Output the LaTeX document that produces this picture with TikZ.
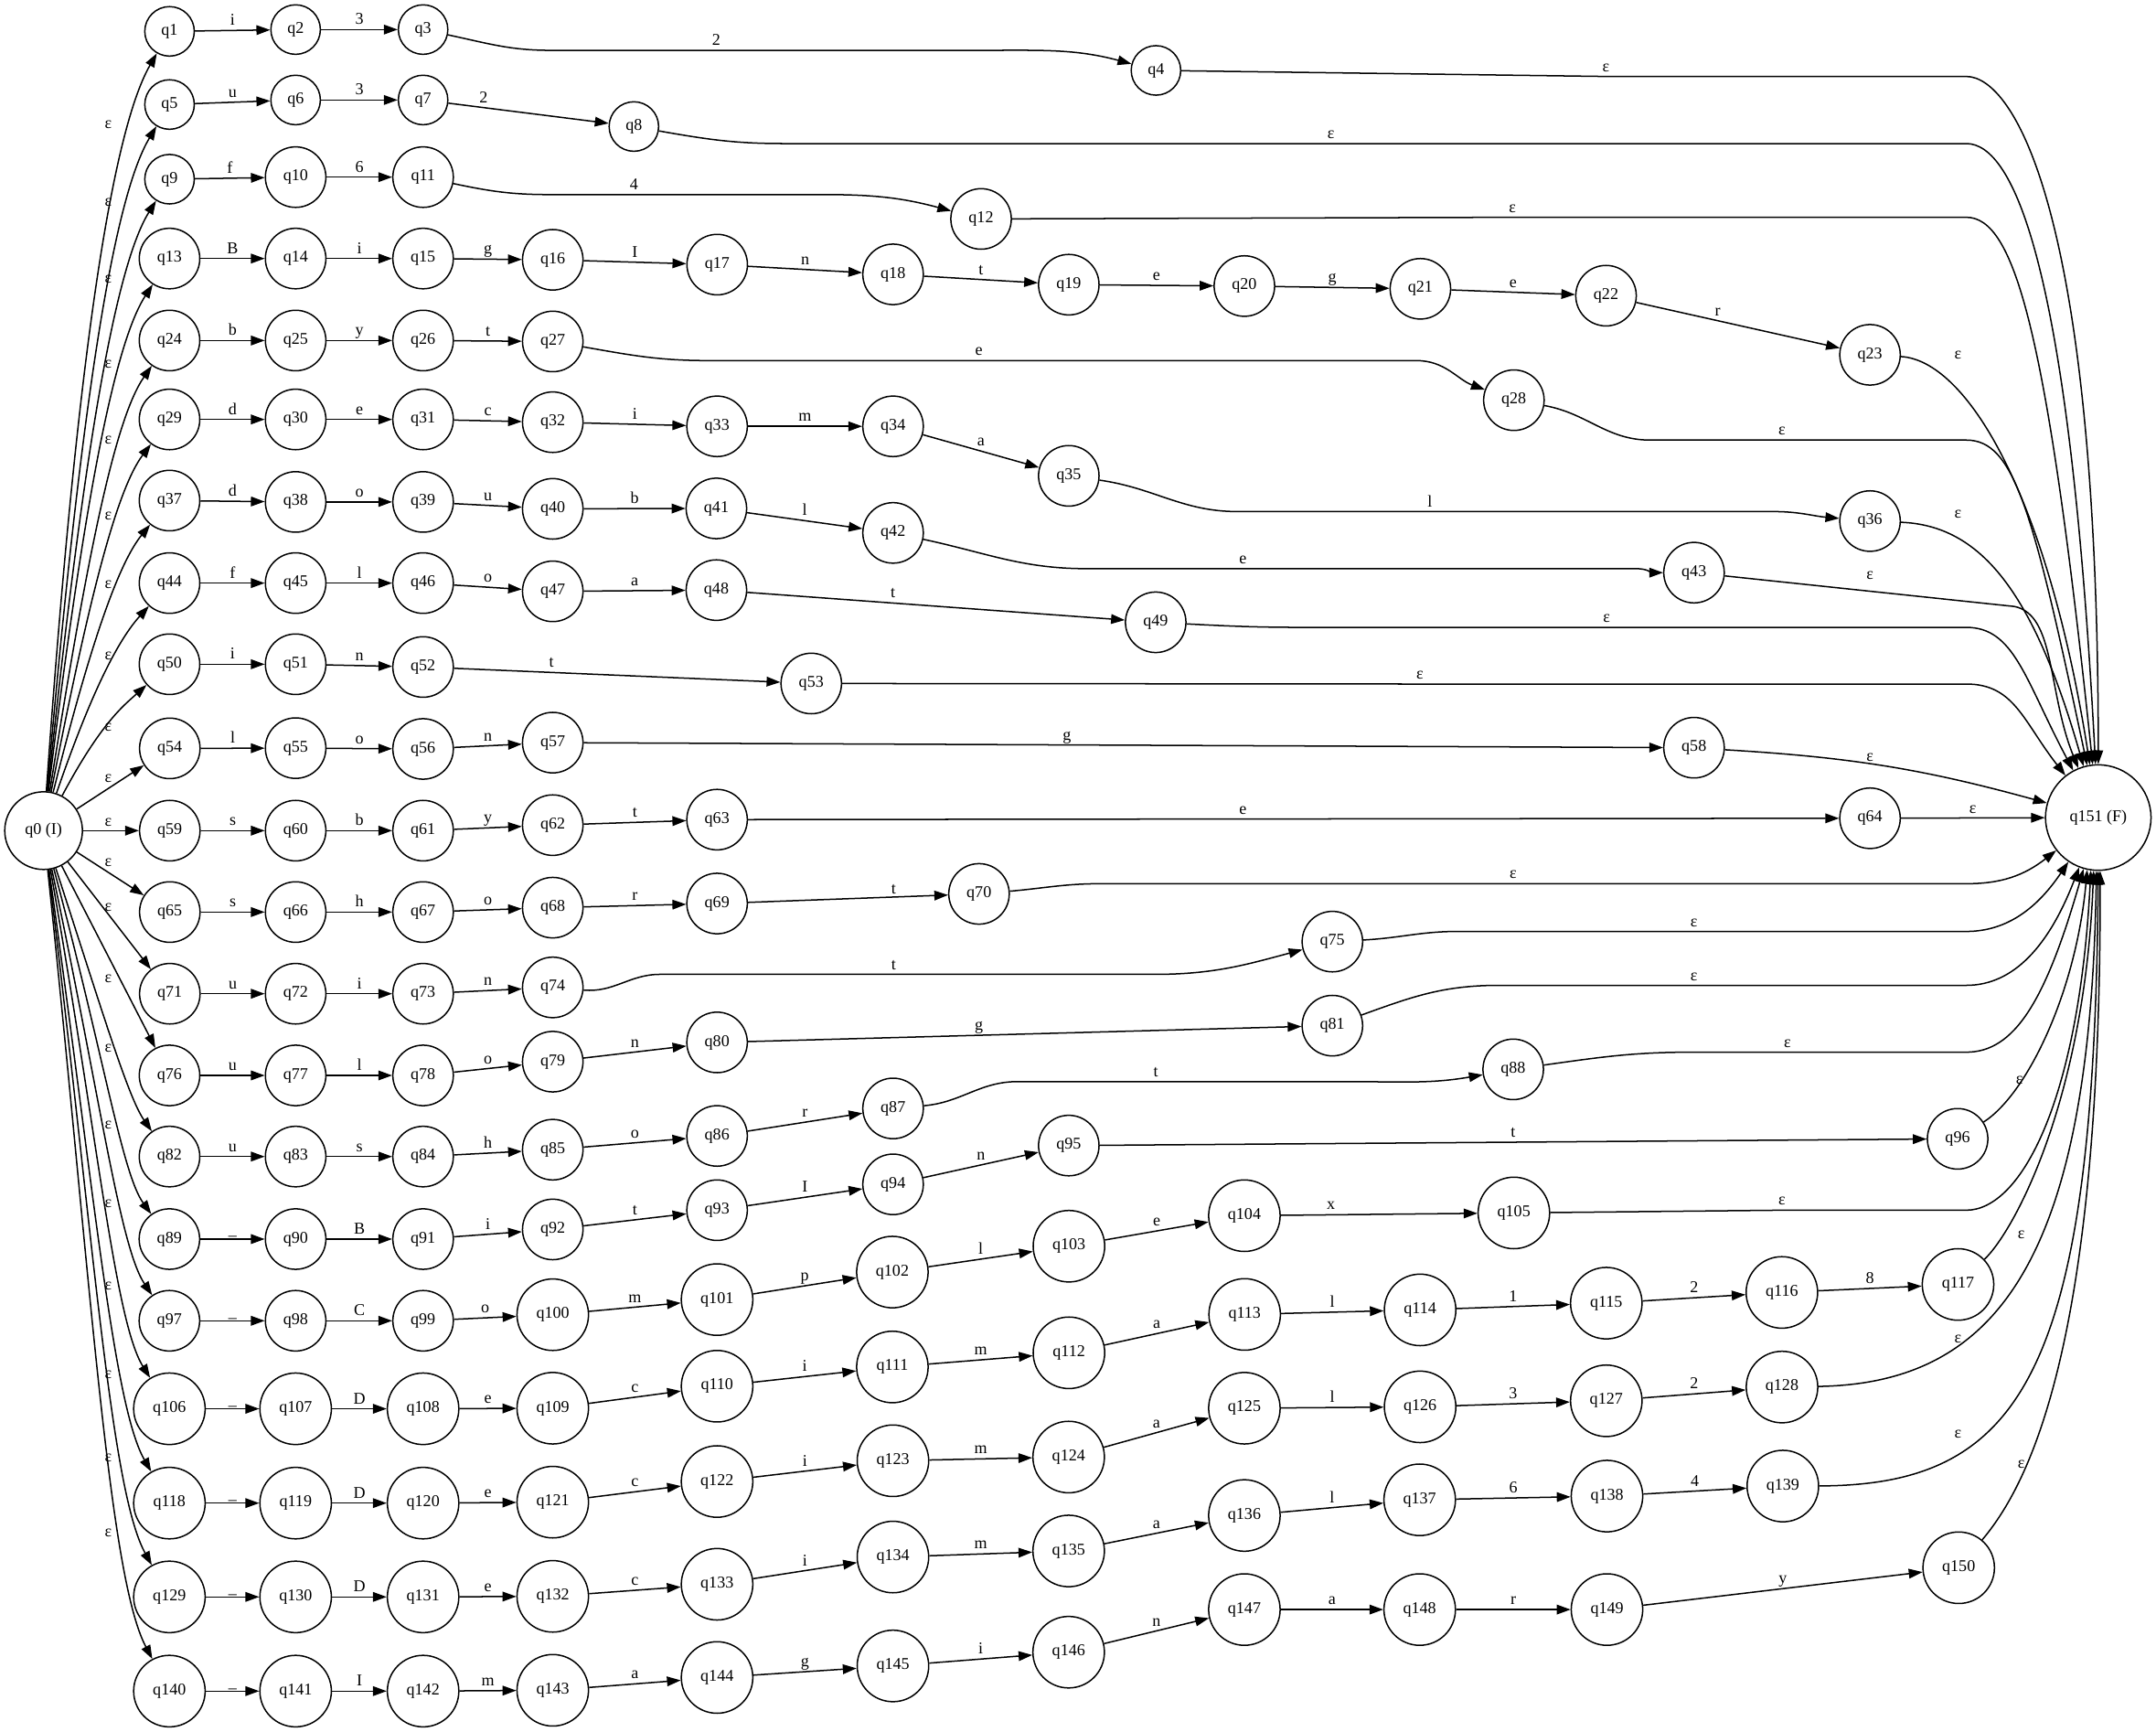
\documentclass[tikz,border=0pt]{standalone}
\usepackage{fontspec}
\setmainfont{Liberation Serif}
\usetikzlibrary{arrows.meta}
\newcommand\nf{\fontsize{12}{14}\selectfont}
\newcommand\N[4]{\node[#2] (#1) at (#3,-#4) {#1};}
\newcommand\SE[3]{\draw[ed] (#1) -- node[lab,above]{#3} (#2);}
\newcommand\SU[2]{\draw[ed] (#1) -- node[lab,above=-0.8pt]{\_} (#2);}
\newcommand\FU[6]{\draw[ed] (q0) to[out=#2,in=#3,out distance=#4pt,in distance=#5pt] (#1) node[lab] at (78.7,-#6) {ε};}
\begin{document}
\begin{tikzpicture}[x=1pt,y=1pt,
 st/.style={circle,draw,line width=1pt,inner sep=0pt,font=\nf},
 s2/.style={st,minimum size=36pt},
 s3/.style={st,minimum size=44pt},
 s4/.style={st,minimum size=52pt},
 ed/.style={line width=1pt,-{Triangle[length=10pt,width=7pt]}},
 lab/.style={font=\nf,inner sep=0.6pt,text height=8pt,text depth=2.5pt}]
\fill[white] (0,0) rectangle (1568,-1259);
\useasboundingbox (0,0) rectangle (1568,-1259);
% start / final
\node[st,minimum size=56.5pt] (q0) at (31.7,-604) {q0 (I)};
\node[st,minimum size=76.7pt] (q151) at (1526,-594.5) {q151 (F)};
% row nodes
\N{q1}{s2}{123.3}{22.8}\N{q2}{s2}{215}{21.5}\N{q3}{s2}{307.7}{21.5}\N{q4}{s2}{840.7}{51.2}
\N{q5}{s2}{123.3}{76}\N{q6}{s2}{215}{72.7}\N{q7}{s2}{307.7}{72.7}\N{q8}{s2}{461}{92}
\N{q9}{s2}{123.3}{130.3}\N{q10}{s3}{215}{128.8}\N{q11}{s3}{307.7}{128.8}\N{q12}{s3}{713.5}{159.2}
\N{q13}{s3}{123.3}{188}\N{q14}{s3}{215}{188}\N{q15}{s3}{307.7}{188}\N{q16}{s3}{402}{188.9}
\N{q17}{s3}{521.6}{192.4}\N{q18}{s3}{649.5}{199.5}\N{q19}{s3}{777.3}{207}\N{q20}{s3}{905}{208}
\N{q21}{s3}{1033}{210}\N{q22}{s3}{1168}{215}\N{q23}{s3}{1360}{258}
\N{q24}{s3}{123.3}{247.6}\N{q25}{s3}{215}{247.6}\N{q26}{s3}{307.7}{247.6}\N{q27}{s3}{402}{248.3}\N{q28}{s3}{1101}{291}
\N{q29}{s3}{123.3}{305}\N{q30}{s3}{215}{305}\N{q31}{s3}{307.7}{305}\N{q32}{s3}{402}{307}
\N{q33}{s3}{521.5}{310}\N{q34}{s3}{649.5}{310}\N{q35}{s3}{777.3}{346}\N{q36}{s3}{1360}{378.9}
\N{q37}{s3}{123.3}{364}\N{q38}{s3}{215}{365}\N{q39}{s3}{307.7}{365}\N{q40}{s3}{402}{370}
\N{q41}{s3}{521}{369.7}\N{q42}{s3}{649.5}{387.5}\N{q43}{s3}{1232}{416.4}
\N{q44}{s3}{123.3}{424}\N{q45}{s3}{215}{424}\N{q46}{s3}{307.7}{424}\N{q47}{s3}{402}{430}
\N{q48}{s3}{521}{429.1}\N{q49}{s3}{840.5}{452.5}
\N{q50}{s3}{123.3}{483}\N{q51}{s3}{215}{483}\N{q52}{s3}{307.7}{485}\N{q53}{s3}{590}{497}
\N{q54}{s3}{123.5}{544.2}\N{q55}{s3}{215}{544}\N{q56}{s3}{307.7}{544.6}\N{q57}{s3}{402}{540}\N{q58}{s3}{1232}{543.7}
\N{q59}{s3}{123.5}{604}\N{q60}{s3}{215}{604}\N{q61}{s3}{307.7}{604}\N{q62}{s3}{402}{600}
\N{q63}{s3}{521.5}{596}\N{q64}{s3}{1360}{595}
\N{q65}{s3}{123.5}{663.2}\N{q66}{s3}{215}{663.2}\N{q67}{s3}{307.7}{663.2}\N{q68}{s3}{402}{660}
\N{q69}{s3}{521.5}{657}\N{q70}{s3}{712}{650}
\N{q71}{s3}{123.5}{722.6}\N{q72}{s3}{215}{722.6}\N{q73}{s3}{307.7}{722.6}\N{q74}{s3}{402}{718}\N{q75}{s3}{969}{684.7}
\N{q76}{s3}{123.3}{782}\N{q77}{s3}{215}{782}\N{q78}{s3}{307.7}{782}\N{q79}{s3}{402}{772}
\N{q80}{s3}{521.5}{758}\N{q81}{s3}{969}{745.8}
\N{q82}{s3}{123.3}{841}\N{q83}{s3}{215}{841}\N{q84}{s3}{307.7}{841}\N{q85}{s3}{402}{836}
\N{q86}{s3}{521.5}{826}\N{q87}{s3}{649.5}{806}\N{q88}{s3}{1100.5}{777.6}
\N{q89}{s3}{123.2}{901}\N{q90}{s3}{215}{901}\N{q91}{s3}{307.7}{901}\N{q92}{s3}{402}{894}
\N{q93}{s3}{521.5}{880}\N{q94}{s3}{649.5}{861.2}\N{q95}{s3}{777.3}{833}\N{q96}{s3}{1423.7}{828.1}
\N{q97}{s3}{123.2}{960.4}\N{q98}{s3}{215}{960.4}\N{q99}{s3}{307.7}{960.4}\N{q100}{s4}{402}{956}
\N{q101}{s4}{521.5}{945}\N{q102}{s4}{649}{925}\N{q103}{s4}{777.4}{906.2}\N{q104}{s4}{905}{884}\N{q105}{s4}{1101}{882}
\N{q106}{s4}{123.2}{1024.4}\N{q107}{s4}{215}{1024.4}\N{q108}{s4}{307.7}{1024.4}\N{q109}{s4}{402}{1024}
\N{q110}{s4}{521.5}{1008}\N{q111}{s4}{649}{994}\N{q112}{s4}{777.4}{983.7}\N{q113}{s4}{905.2}{955.8}
\N{q114}{s4}{1032.8}{952.5}\N{q115}{s4}{1168.2}{947.6}\N{q116}{s4}{1295.9}{939.8}\N{q117}{s4}{1424}{934}
\N{q118}{s4}{123.2}{1093}\N{q119}{s4}{215}{1093}\N{q120}{s4}{307.7}{1093}\N{q121}{s4}{402}{1092.3}
\N{q122}{s4}{521.5}{1077.3}\N{q123}{s4}{649.4}{1062.2}\N{q124}{s4}{777.2}{1059.5}\N{q125}{s4}{905}{1024}
\N{q126}{s4}{1032.8}{1023}\N{q127}{s4}{1168.2}{1018.6}\N{q128}{s4}{1296}{1008.6}
\N{q129}{s4}{123.2}{1161.2}\N{q130}{s4}{215}{1161.2}\N{q131}{s4}{307.7}{1161.2}\N{q132}{s4}{402}{1160.8}
\N{q133}{s4}{521.5}{1152}\N{q134}{s4}{649.4}{1132.2}\N{q135}{s4}{777.2}{1127.8}\N{q136}{s4}{905}{1102}
\N{q137}{s4}{1032.5}{1090.6}\N{q138}{s4}{1168.7}{1087.9}\N{q139}{s4}{1296.6}{1080.6}
\N{q140}{s4}{123.2}{1229.7}\N{q141}{s4}{215}{1229.7}\N{q142}{s4}{307.7}{1229.7}\N{q143}{s4}{402}{1229.1}
\N{q144}{s4}{521.5}{1219.8}\N{q145}{s4}{649.4}{1211.4}\N{q146}{s4}{777.2}{1201.4}\N{q147}{s4}{905}{1170.4}
\N{q148}{s4}{1032.5}{1170.4}\N{q149}{s4}{1168.7}{1170.4}\N{q150}{s4}{1424.5}{1140}
% fan from q0
\FU{q1}{86}{-120}{290}{70}{90.9}
\FU{q5}{85}{-121}{265}{64}{147.4}
\FU{q9}{84}{-122}{237}{58}{202.8}
\FU{q13}{83}{-123}{208}{52}{264.9}
\FU{q24}{81}{-125}{178}{46}{320}
\FU{q29}{79}{-127}{150}{40}{375}
\FU{q37}{76}{-129}{120}{34}{425}
\FU{q44}{71}{-132}{90}{28}{477}
\FU{q50}{62}{-138}{60}{22}{528.7}
\draw[ed] (q0) -- (q54) node[lab] at (78.7,-566) {ε};
\draw[ed] (q0) -- (q59) node[lab] at (78.7,-597.8) {ε};
\draw[ed] (q0) -- (q65) node[lab] at (78.7,-627.3) {ε};
\draw[ed] (q0) -- (q71) node[lab] at (78.7,-659.9) {ε};
\draw[ed] (q0) -- (q76) node[lab] at (78.7,-711.5) {ε};
\FU{q82}{-72}{125}{110}{30}{762.5}
\FU{q89}{-75}{126}{140}{36}{818}
\FU{q97}{-78}{124}{170}{42}{875}
\FU{q106}{-80}{122}{200}{48}{935}
\FU{q118}{-82}{120}{235}{55}{1000}
\FU{q129}{-83}{119}{270}{62}{1060}
\FU{q140}{-84}{118}{300}{68}{1115}
% short edges
\SE{q1}{q2}{i}\SE{q2}{q3}{3}
\SE{q5}{q6}{u}\SE{q6}{q7}{3}
\SE{q9}{q10}{f}\SE{q10}{q11}{6}
\SE{q13}{q14}{B}\SE{q14}{q15}{i}\SE{q15}{q16}{g}\SE{q16}{q17}{I}\SE{q17}{q18}{n}
\SE{q18}{q19}{t}\SE{q19}{q20}{e}\SE{q20}{q21}{g}\SE{q21}{q22}{e}
\SE{q24}{q25}{b}\SE{q25}{q26}{y}\SE{q26}{q27}{t}
\SE{q29}{q30}{d}\SE{q30}{q31}{e}\SE{q31}{q32}{c}\SE{q32}{q33}{i}\SE{q33}{q34}{m}\SE{q34}{q35}{a}
\SE{q37}{q38}{d}\SE{q38}{q39}{o}\SE{q39}{q40}{u}\SE{q40}{q41}{b}\SE{q41}{q42}{l}
\SE{q44}{q45}{f}\SE{q45}{q46}{l}\SE{q46}{q47}{o}\SE{q47}{q48}{a}
\SE{q50}{q51}{i}\SE{q51}{q52}{n}
\SE{q54}{q55}{l}\SE{q55}{q56}{o}\SE{q56}{q57}{n}
\SE{q59}{q60}{s}\SE{q60}{q61}{b}\SE{q61}{q62}{y}\SE{q62}{q63}{t}
\SE{q65}{q66}{s}\SE{q66}{q67}{h}\SE{q67}{q68}{o}\SE{q68}{q69}{r}
\SE{q71}{q72}{u}\SE{q72}{q73}{i}\SE{q73}{q74}{n}
\SE{q76}{q77}{u}\SE{q77}{q78}{l}\SE{q78}{q79}{o}\SE{q79}{q80}{n}
\SE{q82}{q83}{u}\SE{q83}{q84}{s}\SE{q84}{q85}{h}\SE{q85}{q86}{o}\SE{q86}{q87}{r}
\SU{q89}{q90}\SE{q90}{q91}{B}\SE{q91}{q92}{i}\SE{q92}{q93}{t}\SE{q93}{q94}{I}\SE{q94}{q95}{n}
\SU{q97}{q98}\SE{q98}{q99}{C}\SE{q99}{q100}{o}\SE{q100}{q101}{m}\SE{q101}{q102}{p}\SE{q102}{q103}{l}\SE{q103}{q104}{e}
\SU{q106}{q107}\SE{q107}{q108}{D}\SE{q108}{q109}{e}\SE{q109}{q110}{c}\SE{q110}{q111}{i}\SE{q111}{q112}{m}
\SE{q112}{q113}{a}\SE{q113}{q114}{l}\SE{q114}{q115}{1}\SE{q115}{q116}{2}\SE{q116}{q117}{8}
\SU{q118}{q119}\SE{q119}{q120}{D}\SE{q120}{q121}{e}\SE{q121}{q122}{c}\SE{q122}{q123}{i}\SE{q123}{q124}{m}
\SE{q124}{q125}{a}\SE{q125}{q126}{l}\SE{q126}{q127}{3}\SE{q127}{q128}{2}
\SU{q129}{q130}\SE{q130}{q131}{D}\SE{q131}{q132}{e}\SE{q132}{q133}{c}\SE{q133}{q134}{i}\SE{q134}{q135}{m}
\SE{q135}{q136}{a}\SE{q136}{q137}{l}\SE{q137}{q138}{6}\SE{q138}{q139}{4}
\SU{q140}{q141}\SE{q141}{q142}{I}\SE{q142}{q143}{m}\SE{q143}{q144}{a}\SE{q144}{q145}{g}\SE{q145}{q146}{i}
\SE{q146}{q147}{n}\SE{q147}{q148}{a}\SE{q148}{q149}{r}\SE{q149}{q150}{y}
% long edges inside rows
\draw[ed] (q3) to[out=-12,in=180] (400,-36.6) -- (521,-36.6) node[lab,above]{2} -- (715,-36.6) to[out=0,in=165] (q4);
\draw[ed] (q7) -- node[lab,above,pos=0.22]{2} (q8);
\draw[ed] (q11) to[out=-12,in=180] (400,-141.5) -- (461,-141.5) node[lab,above]{4} -- (600,-141.5) to[out=0,in=165] (q12);
\draw[ed] (q22) -- node[lab,above,pos=0.4]{r} (q23);
\draw[ed] (q27) to[out=-10,in=180] (515,-262.2) -- (712,-262.2) node[lab,above]{e} -- (1030,-262.2) to[out=0,in=160] (q28);
\draw[ed] (q35) to[out=-8,in=180] (900,-372) -- (1040,-372) node[lab,above]{l} -- (1290,-372) to[out=0,in=175] (q36);
\draw[ed] (q42) to[out=-12,in=180] (790,-413.5) -- (904,-413.5) node[lab,above]{e} -- (1190,-413.5) to[out=0,in=180] (q43);
\draw[ed] (q48) -- (q49) node[lab,above] at (649.5,-438) {t};
\draw[ed] (q52) -- (q53) node[lab,above] at (401,-489) {t};
\draw[ed] (q57) -- (q58) node[lab,above] at (776,-541.8) {g};
\draw[ed] (q63) -- (q64) node[lab,above] at (904,-595.5) {e};
\draw[ed] (q69) -- (q70) node[lab,above] at (650,-653.5) {t};
\draw[ed] (q74) to[out=-5,in=180] (480,-708.5) -- (650,-708.5) node[lab,above]{t} -- (840,-708.5) to[out=0,in=195] (q75);
\draw[ed] (q80) -- (q81) node[lab,above] at (712,-753) {g};
\draw[ed] (q87) to[out=5,in=180] (740,-786.5) -- (840.6,-786.5) node[lab,above]{t} -- (980,-786.5) to[out=0,in=190] (q88);
\draw[ed] (q95) -- (q96) node[lab,above] at (1100.5,-830.8) {t};
\draw[ed] (q104) -- (q105) node[lab,above] at (968,-883) {x};
% epsilon edges into q151
\draw[ed] (q4) -- (1168,-55.6) node[lab,above]{ε} -- (1430,-55.6) .. controls +(35,0) and +(90:400) .. (q151.90);
\draw[ed] (q8) to[out=-10,in=180] (570,-104.4) -- (968,-104.4) node[lab,above]{ε} -- (1430,-104.4) .. controls +(35,0) and +(93:361) .. (q151.93);
\draw[ed] (q12) -- (1100,-158) node[lab,above]{ε} -- (1430,-158) .. controls +(35,0) and +(96:318) .. (q151.96);
\draw[ed] (q23) .. controls (1430,-262) and +(99:200) .. (q151.99) node[lab] at (1424,-258) {ε};
\draw[ed] (q28) to[out=-10,in=180] (1200,-320) -- (1296,-320) node[lab,above]{ε} -- (1430,-320) .. controls +(35,0) and +(102:190) .. (q151.102);
\draw[ed] (q36) .. controls (1440,-382) and +(106:133) .. (q151.106) node[lab] at (1424,-373.7) {ε};
\draw[ed] (q43) -- (1465,-441) .. controls +(30,-6) and +(112:60) .. (q151.112) node[lab] at (1360,-418.3) {ε};
\draw[ed] (q49) to[out=-3,in=180] (950,-456.2) -- (1168.4,-456.2) node[lab,above]{ε} -- (1430,-456.2) .. controls +(35,0) and +(118:75) .. (q151.118);
\draw[ed] (q53) -- (1032.7,-497.4) node[lab,above]{ε} -- (1430,-497.4) .. controls +(35,0) and +(128:50) .. (q151.128);
\draw[ed] (q58) to[bend left=6] (q151) node[lab] at (1360,-550.8) {ε};
\draw[ed] (q64) -- node[lab,above]{ε} (q151);
\draw[ed] (q70) to[out=5,in=180] (800,-642.6) -- (1100.5,-642.6) node[lab,above]{ε} -- (1430,-642.6) .. controls +(25,0) and +(218:30) .. (q151.218);
\draw[ed] (q75) to[out=3,in=180] (1060,-677.3) -- (1232,-677.3) node[lab,above]{ε} -- (1430,-677.3) .. controls +(30,0) and +(236:40) .. (q151.236);
\draw[ed] (q81) to[out=20,in=180] (1090,-716.5) -- (1232,-716.5) node[lab,above]{ε} -- (1430,-716.5) .. controls +(35,0) and +(249:60) .. (q151.249);
\draw[ed] (q88) to[out=8,in=180] (1230,-765.1) -- (1300,-765.1) node[lab,above]{ε} -- (1430,-765.1) .. controls +(35,0) and +(254:100) .. (q151.254);
\draw[ed] (q96) .. controls (1475,-795) and (1510,-720) .. (q151.258) node[lab] at (1468.6,-785.6) {ε};
\draw[ed] (q105) -- (1296,-880) node[lab,above]{ε} -- (1430,-880) .. controls (1470,-880) and (1512,-800) .. (q151.262);
\draw[ed] (q117) .. controls (1465,-895) and (1516,-800) .. (q151.265) node[lab] at (1470,-898) {ε};
\draw[ed] (q128) .. controls (1450,-1006) and (1520,-920) .. (q151.268) node[lab] at (1424,-974) {ε};
\draw[ed] (q139) .. controls (1470,-1080) and (1523,-1000) .. (q151.270) node[lab] at (1424,-1043) {ε};
\draw[ed] (q150) .. controls (1475,-1080) and (1528,-980) .. (q151.272) node[lab] at (1470,-1065) {ε};
\end{tikzpicture}
\end{document}
